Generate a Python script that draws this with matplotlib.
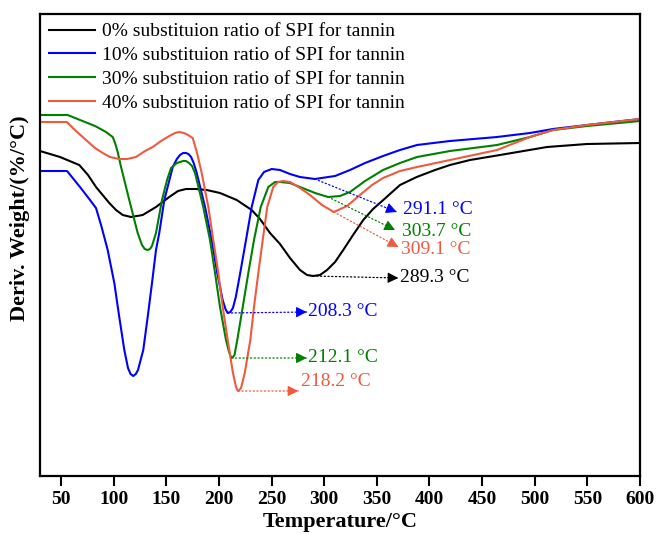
import matplotlib
matplotlib.use("Agg")
import matplotlib.pyplot as plt

plt.rcParams['font.family'] = ['Liberation Serif', 'DejaVu Serif']

# ---------------- data (temperature in °C, derivative weight in arbitrary units) ----------------
t_black = [30, 49, 67.3, 75.6, 83.2, 95.8, 102.2, 108.6, 116.5, 127.6, 140.2, 152.8, 161.1, 168.7,
           178.2, 188.4, 201, 216.9, 231.1, 239, 248.5, 258, 267.5, 277, 283.7, 289.3, 296, 302.7,
           310.3, 318.1, 327.4, 337.1, 346.4, 356.1, 372, 387.9, 405.3, 419.5, 438.5, 467, 511.7,
           549.7, 600]
y_black = [3.24, 3.18, 3.10, 3.00, 2.88, 2.72, 2.65, 2.60, 2.58, 2.60, 2.68, 2.78, 2.84, 2.86,
           2.86, 2.85, 2.82, 2.75, 2.65, 2.56, 2.42, 2.31, 2.17, 2.05, 2.00, 1.99, 2.00, 2.05,
           2.13, 2.25, 2.40, 2.55, 2.66, 2.75, 2.90, 2.98, 3.05, 3.10, 3.15, 3.20, 3.28,
           3.31, 3.32]

t_blue = [30, 55.7, 68, 77.5, 83.2, 88, 91.8, 94.3, 100.6, 105.3, 110.1, 113.6, 116, 118.6, 121,
          123.1, 128.1, 132.3, 136.4, 140.2, 143.3, 148.1, 156.1, 160, 163, 166, 168.7, 171, 173.5,
          176, 178.9, 186.8, 193.1, 198.4, 203.5, 206.2, 208.3, 210.8, 213.3, 216, 220.2, 225.7,
          231.1, 237.4, 242.8, 250.1, 258, 267.5, 277, 291.1, 310.3, 324.5, 338.8, 355.9, 372,
          388.2, 419.5, 464.2, 495.5, 517.4, 549.7, 600]
y_blue = [3.04, 3.04, 2.88, 2.75, 2.67, 2.50, 2.35, 2.25, 1.92, 1.58, 1.25, 1.07, 1.01, 0.99, 1.01,
          1.05, 1.25, 1.58, 1.92, 2.25, 2.42, 2.75, 3.08, 3.16, 3.20, 3.22, 3.22, 3.21, 3.18,
          3.12, 3.02, 2.68, 2.35, 2.02, 1.75, 1.66, 1.62, 1.63, 1.67, 1.78, 2.02, 2.35,
          2.68, 2.95, 3.03, 3.06, 3.05, 3.01, 2.98, 2.96, 2.99, 3.05, 3.12, 3.19, 3.25,
          3.30, 3.34, 3.38, 3.42, 3.46, 3.50, 3.56]

t_green = [30, 56.3, 68, 82.3, 92.7, 96.5, 99.1, 101.3, 103.8, 107, 114.8, 122.8, 126.9, 129.5,
           132.3, 134.5, 136.4, 140.2, 145.9, 150.7, 154.5, 160, 163, 166, 168.7, 171.5, 174.4,
           177.3, 185.1, 191.5, 196.3, 201, 206.7, 209.6, 211, 212.1, 213.3, 214.8, 217.4, 222.6,
           227.9, 233.3, 239.7, 246.9, 253.3, 258, 267.5, 277, 291.3, 303.7, 315, 324.5, 338.8,
           355.9, 372, 388.2, 419.5, 464.2, 495.5, 517.4, 549.7, 600]
y_green = [3.60, 3.60, 3.55, 3.49, 3.43, 3.40, 3.38, 3.32, 3.23, 3.08, 2.75, 2.42, 2.30, 2.26,
           2.25, 2.26, 2.29, 2.42, 2.75, 2.95, 3.07, 3.12, 3.13, 3.14, 3.14, 3.12, 3.09,
           3.02, 2.68, 2.35, 2.02, 1.68, 1.35, 1.23, 1.19, 1.17, 1.18, 1.20, 1.35, 1.68,
           2.02, 2.35, 2.68, 2.88, 2.93, 2.93, 2.92, 2.88, 2.82, 2.78, 2.79, 2.83, 2.94,
           3.05, 3.12, 3.18, 3.24, 3.30, 3.38, 3.45, 3.49, 3.54]

t_red = [30, 55.4, 64.2, 73.7, 82.3, 89.6, 96.5, 105.3, 112.7, 121.2, 129.8, 137.1, 145, 152.8,
         158.3, 162.3, 166.8, 170.6, 175.1, 179.2, 183.6, 189.9, 194.6, 199.4, 203.6, 208.3, 213.3,
         216, 217.2, 218.2, 219.4, 221, 224.5, 229.8, 233.3, 237.4, 241.6, 245.9, 251.6, 256.1,
         261.1, 267.5, 277, 286.5, 297.9, 309.1, 321.7, 334, 345.4, 355.9, 372, 388.2, 419.5,
         464.2, 495.5, 517.4, 549.7, 600]
y_red = [3.53, 3.53, 3.44, 3.35, 3.27, 3.22, 3.18, 3.16, 3.16, 3.18, 3.24, 3.28, 3.34, 3.39,
         3.42, 3.43, 3.42, 3.40, 3.37, 3.22, 3.02, 2.68, 2.35, 2.02, 1.68, 1.35, 1.02,
         0.89, 0.855, 0.84, 0.85, 0.87, 1.02, 1.35, 1.68, 2.02, 2.35, 2.68, 2.88, 2.93,
         2.94, 2.93, 2.87, 2.80, 2.70, 2.63, 2.69, 2.80, 2.90, 2.97, 3.04, 3.08, 3.15,
         3.25, 3.38, 3.45, 3.50, 3.56]

labels = ["0% substituion ratio of SPI for tannin",
          "10% substituion ratio of SPI for tannin",
          "30% substituion ratio of SPI for tannin",
          "40% substituion ratio of SPI for tannin"]
colors = ["#000000", "#0000FF", "#008000", "#EF5A3F"]

# peak annotations
peaks_t = [291.1, 303.7, 309.1, 289.3, 208.3, 212.1, 218.2]
peaks_y = [2.96, 2.78, 2.63, 1.99, 1.62, 1.17, 0.84]
peak_labels = ["291.1 °C", "303.7 °C", "309.1 °C", "289.3 °C", "208.3 °C", "212.1 °C", "218.2 °C"]
peak_colors = ["#0000FF", "#008000", "#EF5A3F", "#000000", "#0000FF", "#008000", "#EF5A3F"]
tip_t = [368.9, 367.3, 370.4, 370.4, 283.4, 283.4, 275.4]
tip_y = [2.63, 2.45, 2.28, 1.97, 1.63, 1.17, 0.84]
text_t = [374.6, 373.6, 372.7, 372.0, 284.9, 284.9, 277.7]
text_y = [2.66, 2.44, 2.26, 1.97, 1.63, 1.17, 0.93]

xticks = [50, 100, 150, 200, 250, 300, 350, 400, 450, 500, 550, 600]

# ---------------- figure ----------------
fig = plt.figure(figsize=(6.56, 5.34), dpi=100)
ax = fig.add_axes([40 / 656, (534 - 476) / 534, 600 / 656, 462 / 534])

series = [(t_black, y_black), (t_blue, y_blue), (t_green, y_green), (t_red, y_red)]
for (t, y), lab, c in zip(series, labels, colors):
    ax.plot(t, y, color=c, lw=1.5, label=lab, solid_joinstyle="round")

for pt, py, lab, c, tt, ty, xt, yt in zip(peaks_t, peaks_y, peak_labels, peak_colors,
                                          tip_t, tip_y, text_t, text_y):
    ax.annotate("", xy=(tt, ty), xytext=(pt, py),
                arrowprops=dict(arrowstyle="-", color=c, lw=0.9, linestyle=(0, (1, 2)),
                                shrinkA=0, shrinkB=0))
    dx = (tt - pt)
    dy = (ty - py)
    ax.annotate("", xy=(tt, ty), xytext=(tt - dx * 0.12, ty - dy * 0.12),
                arrowprops=dict(arrowstyle="-|>", color=c, lw=0.8, mutation_scale=16,
                                shrinkA=0, shrinkB=0))
    ax.text(xt, yt, lab, color=c, fontsize=14, ha="left", va="center")

ax.set_xlim(30, 600)
ax.set_ylim(-0.01, 4.61)
ax.set_xticks(xticks)
ax.set_xticklabels([str(v) for v in xticks], fontsize=14, fontweight="bold")
ax.set_yticks([])
ax.tick_params(axis="x", direction="out", length=7, width=1.5, pad=4)
for s in ax.spines.values():
    s.set_linewidth(1.6)

ax.set_xlabel("Temperature/°C", fontsize=16, fontweight="bold", labelpad=3)
ax.set_ylabel("Deriv. Weight/(%/°C)", fontsize=16, fontweight="bold")
ax.yaxis.set_label_coords(-0.016, 0.558)

leg = ax.legend(loc="upper left", frameon=False, fontsize=14, handlelength=2.4,
                handletextpad=0.35, labelspacing=0.32, borderaxespad=0.15,
                borderpad=0.3)

fig.savefig("out.png", dpi=100)
